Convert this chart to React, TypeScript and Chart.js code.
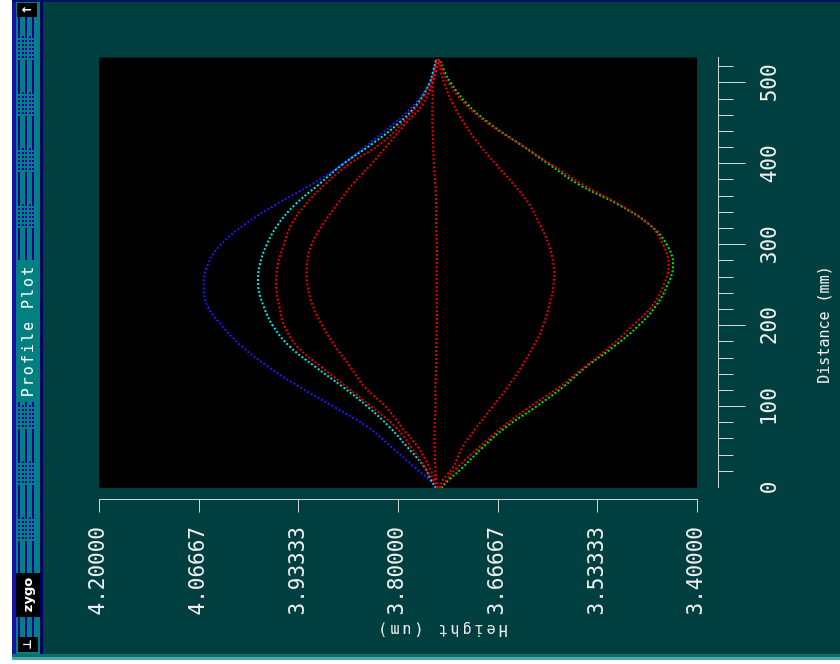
import React, { useEffect, useRef } from 'react';
import { Chart, registerables } from 'chart.js';

Chart.register(...registerables);

// Distance along the profile (x axis, shown vertically after rotation)
const DISTANCE = [0, 10, 25, 50, 75, 100, 125, 150, 175, 200, 225, 250, 275, 300, 325, 350, 375, 400, 425, 450, 475, 500, 515, 530];

// Height profiles (um)
const HEIGHT_BLUE = [3.749, 3.758, 3.777, 3.808, 3.840, 3.885, 3.932, 3.974, 4.009, 4.035, 4.055, 4.060, 4.055, 4.038, 4.006, 3.964, 3.916, 3.874, 3.840, 3.806, 3.777, 3.758, 3.752, 3.748];
const HEIGHT_CYAN = [3.749, 3.756, 3.764, 3.787, 3.811, 3.840, 3.874, 3.911, 3.945, 3.967, 3.980, 3.987, 3.985, 3.976, 3.961, 3.938, 3.906, 3.874, 3.835, 3.800, 3.774, 3.758, 3.753, 3.749];
const HEIGHT_RED_A = [3.747, 3.753, 3.764, 3.782, 3.803, 3.835, 3.869, 3.903, 3.935, 3.952, 3.959, 3.963, 3.961, 3.953, 3.943, 3.924, 3.898, 3.866, 3.824, 3.795, 3.772, 3.756, 3.750, 3.745];
const HEIGHT_RED_B = [3.747, 3.750, 3.758, 3.773, 3.795, 3.816, 3.845, 3.864, 3.884, 3.901, 3.914, 3.921, 3.922, 3.916, 3.901, 3.882, 3.861, 3.836, 3.813, 3.790, 3.766, 3.754, 3.749, 3.745];
const HEIGHT_RED_C = [3.748, 3.749, 3.750, 3.751, 3.751, 3.750, 3.750, 3.749, 3.749, 3.748, 3.748, 3.748, 3.748, 3.748, 3.749, 3.749, 3.750, 3.752, 3.753, 3.754, 3.754, 3.753, 3.751, 3.748];
const HEIGHT_RED_D = [3.745, 3.740, 3.727, 3.714, 3.695, 3.674, 3.653, 3.635, 3.619, 3.606, 3.598, 3.592, 3.592, 3.598, 3.610, 3.624, 3.645, 3.669, 3.692, 3.711, 3.727, 3.738, 3.743, 3.745];
const HEIGHT_GREEN = [3.742, 3.732, 3.714, 3.687, 3.656, 3.616, 3.579, 3.548, 3.511, 3.479, 3.455, 3.440, 3.432, 3.440, 3.463, 3.505, 3.558, 3.598, 3.637, 3.677, 3.708, 3.729, 3.738, 3.744];
const HEIGHT_RED_E = [3.743, 3.735, 3.721, 3.692, 3.661, 3.624, 3.584, 3.550, 3.516, 3.487, 3.460, 3.445, 3.438, 3.445, 3.463, 3.503, 3.553, 3.595, 3.637, 3.679, 3.711, 3.732, 3.740, 3.744];

// Axis ticks
const Y_TICKS = [4.2, 4.06667, 3.93333, 3.8, 3.66667, 3.53333, 3.4];
const X_TICKS = [0, 100, 200, 300, 400, 500];
const X_MINOR = [20, 40, 60, 80, 120, 140, 160, 180, 220, 240, 260, 280, 320, 340, 360, 380, 420, 440, 460, 480, 520];
const X_MIN = 0;
const X_MAX = 532;
const Y_MIN = 3.4;
const Y_MAX = 4.2;

const TITLE = 'Profile Plot';
const X_TITLE = 'Distance (mm)';
const Y_TITLE = 'Height (um)';

const RED = '#e80000';
const SERIES = [
  { name: 'Profile 1', values: HEIGHT_RED_A, color: RED },
  { name: 'Profile 2', values: HEIGHT_RED_B, color: RED },
  { name: 'Profile 3', values: HEIGHT_RED_C, color: RED },
  { name: 'Profile 4', values: HEIGHT_RED_D, color: RED },
  { name: 'Profile 5', values: HEIGHT_RED_E, color: RED },
  { name: 'Profile 6', values: HEIGHT_CYAN, color: '#00e4e4' },
  { name: 'Profile 7', values: HEIGHT_GREEN, color: '#00e400' },
  { name: 'Profile 8', values: HEIGHT_BLUE, color: '#1a1aff' },
];

const AXIS_COLOR = '#d4d4d4';
const TEXT_COLOR = '#ececec';
const MONO = '"DejaVu Sans Mono", "Liberation Mono", monospace';

const framePlugin = {
  id: 'zygoFrame',
  beforeDraw(chart: any) {
    const { ctx, chartArea: a } = chart;
    ctx.save();
    ctx.fillStyle = '#000000';
    ctx.fillRect(a.left, a.top, a.right - a.left, a.bottom - a.top);
    ctx.restore();
  },
  afterDraw(chart: any) {
    const { ctx, chartArea: a, scales } = chart;
    const xs = scales.x;
    const ys = scales.y;
    ctx.save();
    ctx.strokeStyle = AXIS_COLOR;
    ctx.lineWidth = 1;
    ctx.beginPath();
    // height axis
    const ax = Math.round(a.left - 12) + 0.5;
    ctx.moveTo(ax, Math.round(ys.getPixelForValue(Y_MAX)));
    ctx.lineTo(ax, Math.round(ys.getPixelForValue(Y_MIN)) + 1);
    for (const v of Y_TICKS) {
      const py = Math.round(ys.getPixelForValue(v)) + 0.5;
      ctx.moveTo(ax, py);
      ctx.lineTo(ax - 13, py);
    }
    // distance axis
    const ay = Math.round(a.bottom + 21) + 0.5;
    ctx.moveTo(Math.round(xs.getPixelForValue(X_MIN)), ay);
    ctx.lineTo(Math.round(xs.getPixelForValue(X_MAX)), ay);
    for (const v of X_TICKS) {
      if (v <= X_MIN) continue;
      const px = Math.round(xs.getPixelForValue(v)) + 0.5;
      ctx.moveTo(px, ay);
      ctx.lineTo(px, ay + 27);
    }
    for (const v of X_MINOR) {
      const px = Math.round(xs.getPixelForValue(v)) + 0.5;
      ctx.moveTo(px, ay);
      ctx.lineTo(px, ay + 15);
    }
    ctx.stroke();

    // axis titles
    ctx.fillStyle = TEXT_COLOR;
    ctx.font = '15px ' + MONO;
    ctx.textAlign = 'center';
    ctx.textBaseline = 'middle';
    ctx.fillText(X_TITLE, 339, 825);
    ctx.save();
    ctx.translate(35.5, 441.5);
    ctx.rotate(-Math.PI / 2);
    (ctx as any).letterSpacing = '3px';
    ctx.fillText(Y_TITLE, 0, 0);
    ctx.restore();
    ctx.restore();
  },
};

const ROWS =
  'linear-gradient(to bottom, transparent 0 2px, #000090 2px 4px, transparent 4px 9px, #000090 9px 11px, transparent 11px 16px, #000090 16px 18px, transparent 18px)';

function Stripes({ left, width }: { left: number; width: number }) {
  const solidMask = 'repeating-linear-gradient(to right, #000 0 32px, transparent 32px 56px)';
  const dotMask = 'repeating-linear-gradient(to right, transparent 0 32px, #000 32px 56px)';
  return (
    <>
      <div
        style={{
          position: 'absolute', left, top: 0, width, height: 24,
          backgroundImage: ROWS,
          maskImage: solidMask, WebkitMaskImage: solidMask,
        } as any}
      />
      <div
        style={{
          position: 'absolute', left, top: 0, width, height: 24,
          backgroundImage:
            'repeating-linear-gradient(to right, #008080 0 2px, transparent 2px 4px), ' +
            'linear-gradient(to bottom, transparent 0 2px, #0000b0 2px 4px, transparent 4px 6px, #0000b0 6px 8px, transparent 8px 9px, #0000b0 9px 11px, transparent 11px 13px, #0000b0 13px 15px, transparent 15px 16px, #0000b0 16px 18px, transparent 18px)',
          maskImage: dotMask, WebkitMaskImage: dotMask,
        } as any}
      />
    </>
  );
}

export default function App() {
  const canvasRef = useRef<HTMLCanvasElement | null>(null);

  useEffect(() => {
    const canvas = canvasRef.current;
    if (!canvas) return;
    const datasets = SERIES.map((s) => ({
      label: s.name,
      data: DISTANCE.map((d, i) => ({ x: d, y: s.values[i] })),
      showLine: true,
      borderColor: s.color,
      backgroundColor: s.color,
      borderWidth: 2,
      borderDash: [2, 2],
      pointRadius: 0,
      tension: 0.4,
      fill: false,
    }));
    const tickFont = { family: MONO, size: 21 };
    const chart = new Chart(canvas, {
      type: 'scatter',
      data: { datasets },
      options: {
        animation: false,
        responsive: false,
        devicePixelRatio: 1,
        layout: { padding: { top: 99, right: 57, bottom: 0, left: 0 } },
        plugins: {
          legend: { display: false },
          tooltip: { enabled: false },
          title: { display: false },
        },
        scales: {
          x: {
            type: 'linear',
            min: X_MIN,
            max: X_MAX,
            afterFit: (s: any) => { s.height = 143; },
            afterBuildTicks: (s: any) => { s.ticks = X_TICKS.map((v) => ({ value: v })); },
            grid: { display: false, drawTicks: false },
            border: { display: false },
            ticks: {
              padding: 61, color: TEXT_COLOR, font: tickFont,
              maxRotation: 0, minRotation: 0, autoSkip: false,
              callback: (v: any) => String(v),
            },
          },
          y: {
            type: 'linear',
            min: Y_MIN,
            max: Y_MAX,
            afterFit: (s: any) => { s.width = 176; },
            afterBuildTicks: (s: any) => { s.ticks = Y_TICKS.map((v) => ({ value: v })); },
            grid: { display: false, drawTicks: false },
            border: { display: false },
            ticks: {
              padding: 39, color: TEXT_COLOR, font: tickFont, autoSkip: false,
              callback: (v: any) => Number(v).toFixed(5),
            },
          },
        },
      } as any,
      plugins: [framePlugin],
    });
    return () => chart.destroy();
  }, []);

  return (
    <div
      style={{
        position: 'fixed', left: 0, top: 0, width: 664, height: 840,
        transformOrigin: '0 0', transform: 'translateY(664px) rotate(-90deg)',
        background: '#ffffff', overflow: 'hidden',
      }}
    >
      <div style={{ position: 'absolute', left: 4, top: 12, width: 3, bottom: 0, background: '#4aa8a8' }} />
      <div style={{ position: 'absolute', left: 7, top: 12, width: 3, bottom: 0, background: '#0d6e6e' }} />
      <div style={{ position: 'absolute', left: 10, top: 12, right: 0, height: 4, background: '#1414a8' }} />
      <div style={{ position: 'absolute', left: 10, top: 16, right: 2, height: 24, background: '#008080' }}>
        <Stripes left={17} width={20} />
        <Stripes left={81} width={171} />
        <Stripes left={394} width={243} />
        <div style={{ position: 'absolute', left: 2, top: 2, width: 15, height: 20, background: '#000', color: '#fff', font: 'bold 11px "DejaVu Sans"', lineHeight: '20px', textAlign: 'center' }}>⊥</div>
        <div style={{ position: 'absolute', left: 37, top: 0, width: 44, height: 24, background: '#000', color: '#fff', font: 'bold 13px "DejaVu Sans"', lineHeight: '24px', textAlign: 'center' }}>zygo</div>
        <div style={{ position: 'absolute', left: 252, top: 0, width: 142, height: 24, color: '#fff', font: '15px ' + MONO, letterSpacing: '2px', lineHeight: '24px', textAlign: 'center', whiteSpace: 'nowrap' }}>{TITLE}</div>
        <div style={{ position: 'absolute', left: 637, top: 1, width: 14, height: 20, background: '#000', color: '#fff', font: 'bold 12px "DejaVu Sans"', lineHeight: '20px', textAlign: 'center' }}>↑</div>
      </div>
      <div style={{ position: 'absolute', left: 10, top: 40, right: 0, height: 3, background: '#000060' }} />
      <div style={{ position: 'absolute', left: 10, top: 43, right: 2, bottom: 0, background: '#003f3f' }} />
      <div style={{ position: 'absolute', right: 0, top: 12, width: 2, bottom: 0, background: '#001060' }} />
      <canvas
        ref={canvasRef}
        width={664}
        height={840}
        style={{ position: 'absolute', left: 0, top: 0, width: 664, height: 840 }}
      />
    </div>
  );
}
